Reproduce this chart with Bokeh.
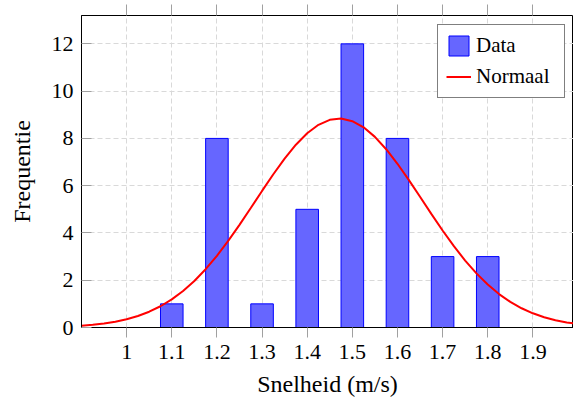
from bokeh.plotting import figure
from bokeh.models import Range1d, LinearAxis, FixedTicker, Legend, LegendItem
from bokeh.embed import file_html
from bokeh.resources import INLINE

# Histogram data
speeds = [1.0, 1.1, 1.2, 1.3, 1.4, 1.5, 1.6, 1.7, 1.8, 1.9]
counts = [0, 1, 8, 1, 5, 12, 8, 3, 3, 0]

# Normal curve
curve_x = [0.900, 0.925, 0.950, 0.975, 1.000, 1.025, 1.050, 1.075, 1.100,
           1.125, 1.150, 1.175, 1.200, 1.225, 1.250, 1.275, 1.300, 1.325,
           1.350, 1.375, 1.400, 1.425, 1.450, 1.475, 1.500, 1.525, 1.550,
           1.575, 1.600, 1.625, 1.650, 1.675, 1.700, 1.725, 1.750, 1.775,
           1.800, 1.825, 1.850, 1.875, 1.900, 1.925, 1.950, 1.975, 2.000]
curve_y = [0.076, 0.115, 0.169, 0.245, 0.349, 0.487, 0.668, 0.899, 1.190,
           1.545, 1.970, 2.467, 3.034, 3.663, 4.342, 5.055, 5.778, 6.485,
           7.147, 7.734, 8.218, 8.575, 8.785, 8.839, 8.730, 8.468, 8.065,
           7.542, 6.926, 6.245, 5.530, 4.807, 4.104, 3.440, 2.832, 2.289,
           1.816, 1.415, 1.083, 0.813, 0.600, 0.435, 0.309, 0.216, 0.148]

x_ticks = [1.0, 1.1, 1.2, 1.3, 1.4, 1.5, 1.6, 1.7, 1.8, 1.9]
x_tick_labels = ["1", "1.1", "1.2", "1.3", "1.4", "1.5", "1.6", "1.7", "1.8", "1.9"]
y_ticks = [0, 2, 4, 6, 8, 10, 12]

FONT = "Times"
TICK_COLOR = "#a0a0a0"

p = figure(width=573, height=401, x_range=Range1d(0.9, 1.99), y_range=Range1d(0, 13.2),
           output_backend="svg", toolbar_location=None,
           min_border_left=81, min_border_right=0, min_border_top=15, min_border_bottom=74)
p.background_fill_color = "white"
p.border_fill_color = "white"
p.outline_line_color = "black"
p.outline_line_width = 1

# grids
p.xgrid.ticker = FixedTicker(ticks=x_ticks)
p.ygrid.ticker = FixedTicker(ticks=y_ticks)
for g in (p.xgrid, p.ygrid):
    g.grid_line_color = "#d9d9d9"
    g.grid_line_dash = "5 3"
    g.grid_line_width = 1

# x axis
xa = p.xaxis[0]
xa.ticker = FixedTicker(ticks=x_ticks)
xa.major_label_overrides = {t: l for t, l in zip(x_ticks, x_tick_labels)}
xa.major_tick_in = 0
xa.major_tick_out = 10
xa.minor_tick_in = 0
xa.minor_tick_out = 0
xa.major_tick_line_color = TICK_COLOR
xa.axis_line_color = "black"
xa.major_label_text_font = FONT
xa.major_label_text_font_size = "22px"
xa.major_label_text_color = "black"
xa.major_label_standoff = 7
xa.axis_label = "Snelheid (m/s)"
xa.axis_label_text_font = FONT
xa.axis_label_text_font_size = "24px"
xa.axis_label_text_font_style = "normal"
xa.axis_label_text_color = "black"
xa.axis_label_standoff = 9

# y axis
ya = p.yaxis[0]
ya.ticker = FixedTicker(ticks=y_ticks)
ya.major_tick_in = 10
ya.major_tick_out = 0
ya.minor_tick_in = 0
ya.minor_tick_out = 0
ya.major_tick_line_color = TICK_COLOR
ya.axis_line_color = "black"
ya.major_label_text_font = FONT
ya.major_label_text_font_size = "22px"
ya.major_label_text_color = "black"
ya.major_label_standoff = 8
ya.axis_label = "Frequentie"
ya.axis_label_text_font = FONT
ya.axis_label_text_font_size = "24px"
ya.axis_label_text_font_style = "normal"
ya.axis_label_text_color = "black"
ya.axis_label_standoff = 14

# top axis: ticks only
ta = LinearAxis(ticker=FixedTicker(ticks=x_ticks), major_tick_in=0, major_tick_out=11,
                minor_tick_in=0, minor_tick_out=0, major_tick_line_color=TICK_COLOR,
                axis_line_color=None,
                major_label_overrides={t: "" for t in x_ticks},
                major_label_standoff=0)
p.add_layout(ta, "above")

bars = p.vbar(x=speeds, top=counts, width=0.05, fill_color="#6666ff",
              line_color="#0000ff", line_width=1)
curve = p.line(curve_x, curve_y, line_color="#ff0000", line_width=2)

legend = Legend(items=[LegendItem(label="Data", renderers=[bars]),
                       LegendItem(label="Normaal", renderers=[curve])],
                location=(356, 229))
legend.border_line_color = "black"
legend.border_line_width = 1
legend.background_fill_color = "white"
legend.background_fill_alpha = 1
legend.label_text_font = FONT
legend.label_text_font_size = "21px"
legend.label_text_color = "black"
legend.glyph_width = 25
legend.glyph_height = 25
legend.label_height = 25
legend.label_width = 80
legend.label_standoff = 5
legend.padding = 8
legend.spacing = 6
legend.margin = 0
p.add_layout(legend, "center")

open("out.html", "w").write(file_html(p, INLINE))
